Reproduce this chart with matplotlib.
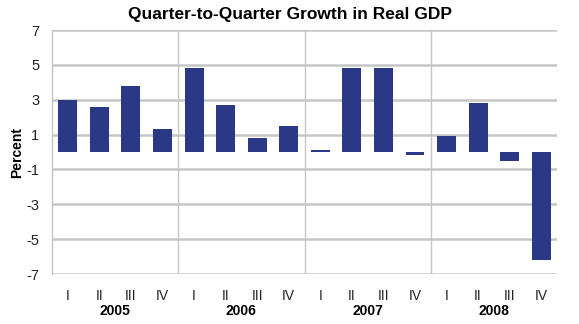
import matplotlib
matplotlib.use("Agg")
import matplotlib.pyplot as plt
import numpy as np

plt.rcParams['font.family'] = ['Liberation Sans', 'DejaVu Sans']

quarters = ["I", "II", "III", "IV"] * 4
years = ["2005", "2006", "2007", "2008"]
growth = [3.0, 2.6, 3.8, 1.3,
          4.8, 2.7, 0.8, 1.5,
          0.1, 4.8, 4.8, -0.2,
          0.9, 2.8, -0.5, -6.2]
yticks = [7, 5, 3, 1, -1, -3, -5, -7]

bar_color = "#2B3886"
grid_color = "#C6C6C6"

fig = plt.figure(figsize=(5.79, 3.24), dpi=100)
ax = fig.add_axes([52 / 579, 1 - 274 / 324, 505 / 579, 244 / 324])

x = np.arange(len(growth))
ax.bar(x, growth, width=0.6, color=bar_color, zorder=3)

ax.set_xlim(-0.5, len(growth) - 0.5)
ax.set_ylim(-7, 7)
ax.set_yticks(yticks)
ax.set_yticklabels([str(v) for v in yticks], fontsize=10.5, color="#222222")
ax.tick_params(axis="y", length=0, pad=9)

# horizontal gridlines
for v in yticks:
    ax.axhline(v, color=grid_color, lw=1.8, zorder=1)
# year separators
for sep in (3.5, 7.5, 11.5):
    ax.axvline(sep, color=grid_color, lw=1.0, zorder=1)

for s in ax.spines.values():
    s.set_visible(False)
ax.spines["left"].set_visible(True)
ax.spines["left"].set_color(grid_color)
ax.spines["left"].set_linewidth(1.0)

ax.set_xticks(x)
ax.set_xticklabels(quarters, fontsize=10, color="#222222")
ax.tick_params(axis="x", length=0, pad=11)

for i, yr in enumerate(years):
    ax.text(i * 4 + 1.5, -0.15, yr, transform=ax.get_xaxis_transform(),
            ha="center", va="center", fontsize=10, fontweight="bold")

ax.set_ylabel("Percent", fontsize=10, fontweight="bold")
ax.yaxis.set_label_coords(-28 / 505, 0.5)
fig.text(0.5, 1 - 14 / 324, "Quarter-to-Quarter Growth in Real GDP",
         ha="center", va="center", fontsize=12.5, fontweight="bold")

fig.savefig("out.png", dpi=100)
